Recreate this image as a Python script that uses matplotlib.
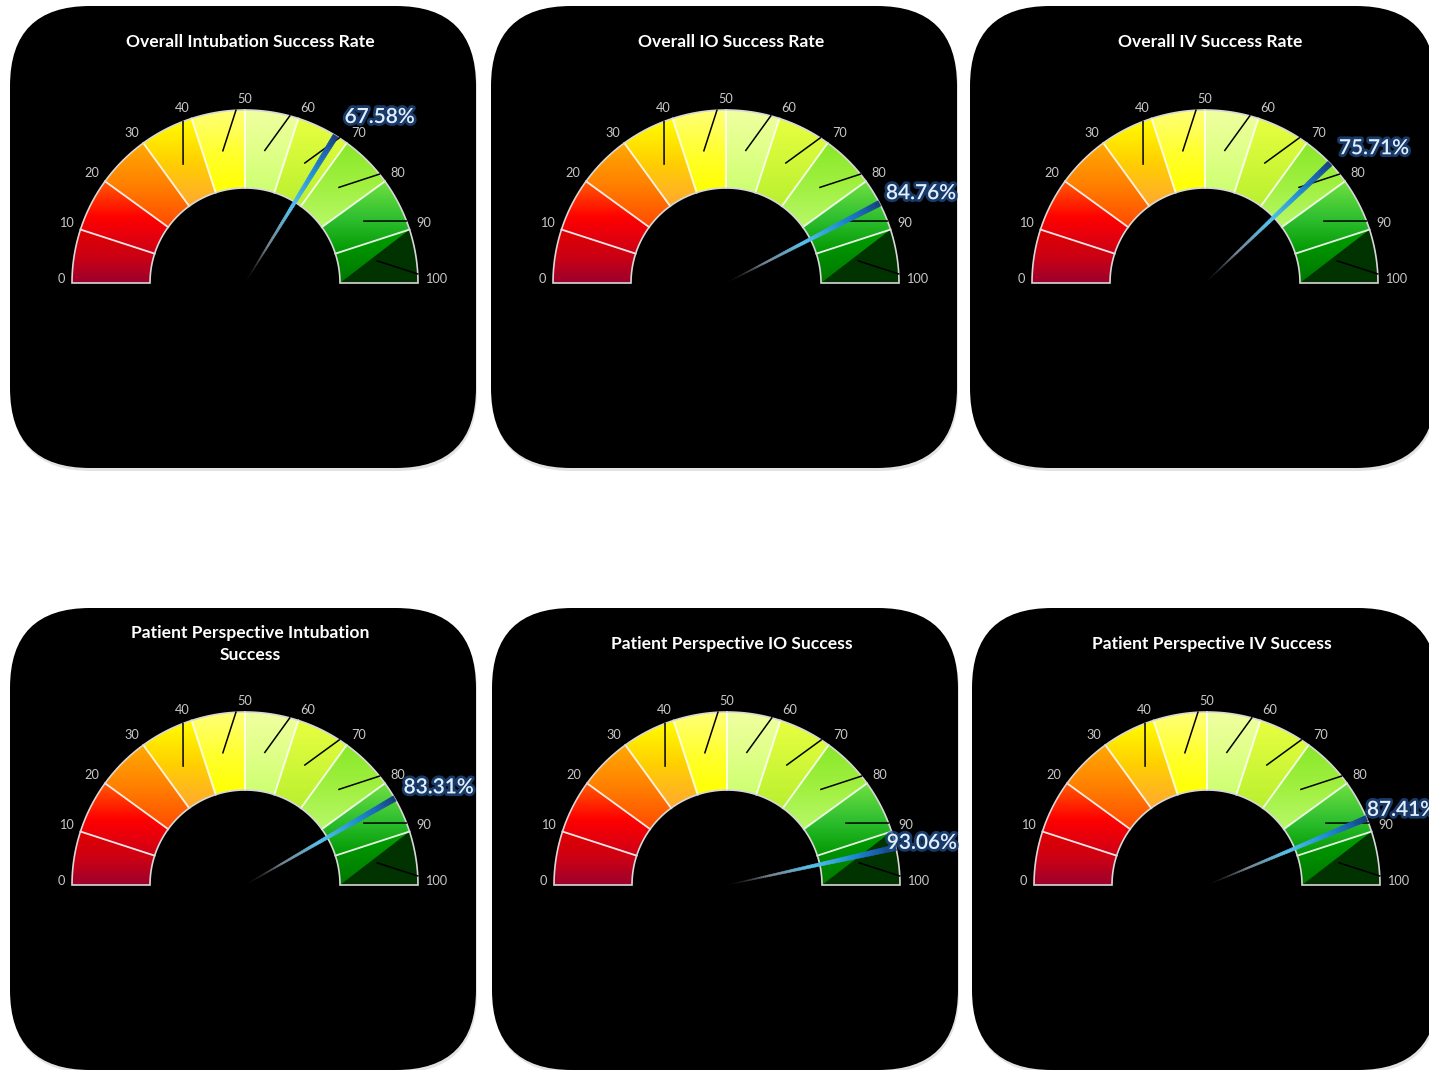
import numpy as np
import matplotlib
matplotlib.use("Agg")
import matplotlib.pyplot as plt
from matplotlib.patches import FancyBboxPatch, Polygon
from matplotlib.collections import PolyCollection
from matplotlib.colors import LinearSegmentedColormap, to_rgb
import matplotlib.patheffects as pe

titles = [
    "Overall Intubation Success Rate",
    "Overall IO Success Rate",
    "Overall IV Success Rate",
    "Patient Perspective Intubation\nSuccess",
    "Patient Perspective IO Success",
    "Patient Perspective IV Success",
]
values = [67.58, 84.76, 75.71, 83.31, 93.06, 87.41]
tick_values = [0, 10, 20, 30, 40, 50, 60, 70, 80, 90, 100]
marked_ticks = [40, 50, 60, 70, 80, 90, 100]

# gradient stops (top, middle, bottom) for each 10-point band
band_colors = [
    ("#e00000", "#cc0014", "#9c002c"),
    ("#ff5a00", "#ff0000", "#cc0018"),
    ("#ffaa00", "#ff8000", "#ff4a00"),
    ("#ffff00", "#ffd000", "#ffa830"),
    ("#ffff78", "#ffff30", "#ffff00"),
    ("#f0ffa0", "#e0ff88", "#ccff70"),
    ("#e8ff40", "#d0f838", "#b8f030"),
    ("#88e828", "#a0f040", "#b8f868"),
    ("#70e040", "#30c030", "#009800"),
    ("#00a000", "#008c00", "#007800"),
]

W, H = 1429, 1070
panel_x = [10, 491, 970, 10, 492, 972]
panel_y = [6, 6, 6, 608, 608, 608]
panel_w, panel_h = 466, 462
R_OUT, R_IN = 173, 95

fig = plt.figure(figsize=(W / 100, H / 100), dpi=100)
ax = fig.add_axes([0, 0, 1, 1])
ax.set_xlim(0, W)
ax.set_ylim(H, 0)
ax.axis("off")


def val_angle(v):
    return np.radians(180 - 1.8 * v)


def pt(cx, cy, r, a):
    return cx + r * np.cos(a), cy - r * np.sin(a)


def ring_sector(cx, cy, r0, r1, a0, a1, n=40):
    a = np.linspace(a0, a1, n)
    outer = np.column_stack([cx + r1 * np.cos(a), cy - r1 * np.sin(a)])
    inner = np.column_stack([cx + r0 * np.cos(a[::-1]), cy - r0 * np.sin(a[::-1])])
    return np.vstack([outer, inner])


def gradient_fill(verts, stops, z):
    poly = Polygon(verts, closed=True, facecolor="none", edgecolor="none")
    ax.add_patch(poly)
    cmap = LinearSegmentedColormap.from_list("band", [to_rgb(c) for c in stops])
    grad = np.linspace(0, 1, 128)[:, None]
    x0, y0 = verts.min(axis=0)
    x1, y1 = verts.max(axis=0)
    im = ax.imshow(grad, cmap=cmap, extent=(x0, x1, y1, y0), origin="upper",
                   aspect="auto", interpolation="bilinear", zorder=z)
    im.set_clip_path(poly)


needle_cmap = LinearSegmentedColormap.from_list("needle", [
    (0.0, (0.2, 0.2, 0.2, 0.0)),
    (0.25, (0.55, 0.62, 0.68, 0.8)),
    (0.5, (0.35, 0.78, 0.95, 1.0)),
    (0.75, (0.12, 0.55, 0.85, 1.0)),
    (0.9, (0.10, 0.37, 0.70, 1.0)),
    (1.0, (0.08, 0.24, 0.50, 1.0)),
])


def draw_gauge(i):
    px, py = panel_x[i], panel_y[i]
    cx, cy = px + 235, py + 277

    # panel with soft shadow
    ax.add_patch(FancyBboxPatch((px + 1, py + 3), panel_w, panel_h,
                                boxstyle="round,pad=0,rounding_size=80",
                                facecolor="#b0b0b0", edgecolor="none", alpha=0.35, zorder=0))
    ax.add_patch(FancyBboxPatch((px, py), panel_w, panel_h,
                                boxstyle="round,pad=0,rounding_size=80",
                                facecolor="black", edgecolor="none", zorder=1))

    ax.text(px + 240, py + 36, titles[i], color="white", fontsize=12.6,
            fontweight="bold", family="Lato", ha="center", va="center",
            linespacing=1.45, zorder=5)

    # coloured bands
    for k in range(10):
        a0, a1 = val_angle(tick_values[k]), val_angle(tick_values[k + 1])
        verts = ring_sector(cx, cy, R_IN, R_OUT, a0, a1)
        gradient_fill(verts, band_colors[k], 2)

    # darker wedge in the last band
    a_top = val_angle(90)
    arc = np.linspace(a_top, val_angle(100), 20)
    dark = [pt(cx, cy, R_OUT, a) for a in arc] + [pt(cx, cy, R_IN, val_angle(100))]
    ax.add_patch(Polygon(dark, closed=True, facecolor="#003300", edgecolor="none", zorder=3))

    # band separators
    for v in tick_values[1:-1]:
        a = val_angle(v)
        (x0, y0), (x1, y1) = pt(cx, cy, R_IN, a), pt(cx, cy, R_OUT, a)
        ax.plot([x0, x1], [y0, y1], color="white", lw=1.3, alpha=0.9, zorder=4)

    # outline
    outline = ring_sector(cx, cy, R_IN, R_OUT, np.pi, 0, n=120)
    ax.add_patch(Polygon(outline, closed=True, facecolor="none",
                         edgecolor="#d8d8d8", lw=1.2, zorder=4))

    # black tick strokes
    for v in marked_ticks:
        a = val_angle(v)
        x0, y0 = pt(cx, cy, R_OUT, a + np.radians(3))
        x1, y1 = pt(cx, cy, 0.775 * R_OUT, a + np.radians(9.5))
        ax.plot([x0, x1], [y0, y1], color="black", lw=1.1, zorder=5)

    # scale labels, anchored just outside the rim
    for v in tick_values:
        a = val_angle(v)
        lx, ly = pt(cx, cy, 180, a)
        c = np.cos(a)
        ha = "left" if c > 0.15 else ("right" if c < -0.15 else "center")
        ax.text(lx, ly - 4, str(v), color="#c8c8c8", fontsize=9.2, family="Lato",
                ha=ha, va="center", zorder=5)

    # needle
    val = values[i]
    a = val_angle(val)
    ux, uy = np.cos(a), -np.sin(a)
    nx, ny = -uy, ux
    ts = np.linspace(0, 1, 80)
    quads, cols = [], []
    for t0, t1 in zip(ts[:-1], ts[1:]):
        w0, w1 = 0.2 + 2.8 * t0, 0.2 + 2.8 * t1
        p0 = (cx + R_OUT * t0 * ux, cy + R_OUT * t0 * uy)
        p1 = (cx + R_OUT * t1 * ux, cy + R_OUT * t1 * uy)
        quads.append([(p0[0] + w0 * nx, p0[1] + w0 * ny), (p1[0] + w1 * nx, p1[1] + w1 * ny),
                      (p1[0] - w1 * nx, p1[1] - w1 * ny), (p0[0] - w0 * nx, p0[1] - w0 * ny)])
        cols.append(needle_cmap((t0 + t1) / 2))
    ax.add_collection(PolyCollection(quads, facecolors=cols, edgecolors=cols,
                                     linewidths=0.3, zorder=6))

    # value label
    tx, ty = pt(cx, cy, R_OUT, a)
    lx = min(tx + 44, cx + 195)
    ly = ty - 22 * np.sin(a)
    ax.text(lx, ly, f"{val:.2f}%", color="#e4eefa", fontsize=15, fontweight="semibold",
            family="Lato", ha="center", va="center", zorder=7,
            path_effects=[pe.withStroke(linewidth=4, foreground="#1f4e8c", alpha=0.75)])


for i in range(len(values)):
    draw_gauge(i)

fig.savefig("out.png", dpi=100, facecolor="white")
